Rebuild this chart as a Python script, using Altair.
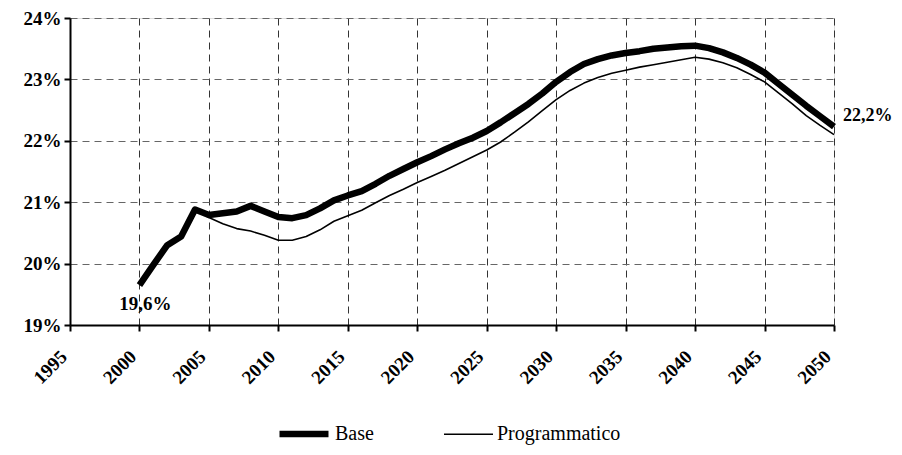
import altair as alt
import pandas as pd

years = list(range(2000, 2051))
base = [19.65, 19.98, 20.30, 20.44, 20.88, 20.79, 20.82, 20.85, 20.94, 20.85,
        20.76, 20.74, 20.79, 20.90, 21.03, 21.11, 21.18, 21.30, 21.43, 21.54,
        21.65, 21.75, 21.86, 21.96, 22.05, 22.16, 22.30, 22.45, 22.60, 22.77,
        22.96, 23.12, 23.25, 23.33, 23.39, 23.43, 23.46, 23.50, 23.52, 23.54,
        23.55, 23.51, 23.44, 23.35, 23.24, 23.11, 22.93, 22.75, 22.57, 22.40,
        22.23]
programmatico = [19.65, 19.98, 20.30, 20.44, 20.88, 20.75, 20.65, 20.57, 20.53, 20.46,
                 20.38, 20.38, 20.44, 20.55, 20.69, 20.78, 20.87, 20.99, 21.11, 21.21,
                 21.32, 21.42, 21.52, 21.63, 21.74, 21.85, 21.98, 22.14, 22.31, 22.49,
                 22.67, 22.82, 22.94, 23.03, 23.10, 23.15, 23.20, 23.24, 23.28, 23.32,
                 23.36, 23.33, 23.27, 23.19, 23.08, 22.96, 22.78, 22.60, 22.41, 22.25,
                 22.10]
series_names = ["Base", "Programmatico"]
x_ticks = list(range(1995, 2051, 5))
y_ticks = [19, 20, 21, 22, 23, 24]
label_years = [2000, 2050]
label_values = [19.65, 22.23]
label_texts = ["19,6%", "22,2%"]

rows = []
for name, vals in zip(series_names, [base, programmatico]):
    for y, v in zip(years, vals):
        rows.append({"year": y, "value": v, "series": name})
df = pd.DataFrame(rows)
lab = pd.DataFrame({"year": label_years, "value": label_values, "text": label_texts})

FONT = "Liberation Serif"

x = alt.X("year:Q", scale=alt.Scale(domain=[1995, 2050], nice=False, zero=False),
          axis=alt.Axis(values=x_ticks, format="d", title=None, labelAngle=-45,
                        labelAlign="right", labelBaseline="top",
                        labelFont=FONT, labelFontWeight="bold", labelFontSize=19,
                        labelColor="black", labelPadding=16, labelOffset=-13,
                        grid=True, gridDash=[7, 5], gridColor="#333", gridWidth=1,
                        domainColor="black", domainWidth=2, tickColor="black",
                        tickWidth=2, tickSize=6))
y = alt.Y("value:Q", scale=alt.Scale(domain=[19, 24], nice=False, zero=False),
          axis=alt.Axis(values=y_ticks, labelExpr="datum.value + '%'", title=None,
                        labelFont=FONT, labelFontWeight="bold", labelFontSize=19,
                        labelColor="black", labelPadding=3,
                        grid=True, gridDash=[7, 5], gridColor="#666", gridWidth=1,
                        domainColor="black", domainWidth=2, tickColor="black",
                        tickWidth=2, tickSize=6))

leg = dict(orient="none", legendX=206, legendY=388, direction="horizontal",
           title=None, symbolType="stroke", symbolSize=2400,
           labelFont=FONT, labelFontSize=20, labelColor="black",
           columnPadding=66, labelOffset=3, symbolStrokeColor="black")

lines = alt.Chart(df).mark_line(strokeCap="butt", strokeJoin="round").encode(
    x=x, y=y,
    color=alt.Color("series:N", scale=alt.Scale(domain=series_names, range=["black", "black"]),
                    legend=alt.Legend(**leg)),
    strokeWidth=alt.StrokeWidth("series:N", scale=alt.Scale(domain=series_names, range=[6.5, 1.6]),
                                legend=alt.Legend(**leg)),
    order=alt.Order("series:N", sort="descending"),
)

t1 = alt.Chart(lab).transform_filter("datum.year == 2000").mark_text(
    font=FONT, fontWeight="bold", fontSize=19, dx=6, dy=19, color="black", align="center"
).encode(x="year:Q", y="value:Q", text="text:N")
t2 = alt.Chart(lab).transform_filter("datum.year == 2050").mark_text(
    font=FONT, fontWeight="bold", fontSize=18, dx=9, dy=-11, color="black", align="left"
).encode(x="year:Q", y="value:Q", text="text:N")

chart = alt.layer(lines, t1, t2).properties(
    width=764, height=307,
    autosize=alt.AutoSizeParams(type="none"),
    padding={"left": 62, "top": 10, "right": 60, "bottom": 122},
).configure_view(stroke=None).configure(background="white")

chart.save("out.html", embed_options={"renderer": "svg", "actions": False})
